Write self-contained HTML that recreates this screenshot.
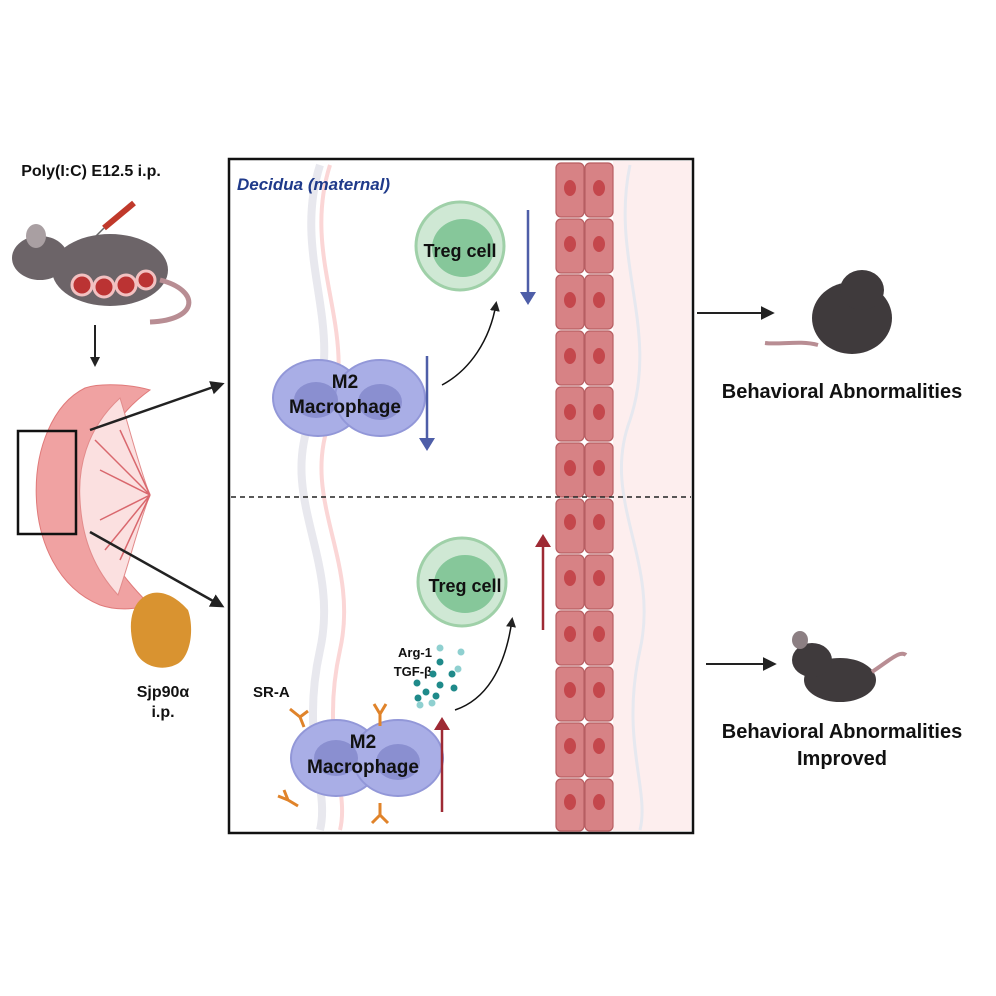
<!DOCTYPE html>
<html><head><meta charset="utf-8"><style>
html,body{margin:0;padding:0;background:#fff;}
svg{display:block;font-family:"Liberation Sans",sans-serif;}
</style></head><body>
<svg width="996" height="996" viewBox="0 0 996 996">
<defs>
<marker id="ab" markerWidth="10" markerHeight="10" refX="7" refY="5" orient="auto" markerUnits="userSpaceOnUse"><path d="M0,0 L10,5 L0,10z" fill="#222"/></marker>
<marker id="ak" viewBox="0 0 10 10" markerWidth="14" markerHeight="14" refX="8" refY="5" orient="auto" markerUnits="userSpaceOnUse"><path d="M0,0 L10,5 L0,10z" fill="#222"/></marker>
</defs>
<rect x="229" y="159" width="464" height="674" fill="#fff" stroke="#111" stroke-width="2.5"/>
<rect x="613" y="161" width="78" height="670" fill="#fdeeee"/>
<path d="M320,165 C290,260 350,330 310,420 C280,500 340,560 320,650 C300,740 330,790 320,830" stroke="#e8e8ee" stroke-width="8" fill="none"/>
<path d="M330,165 C300,260 360,330 330,420 C300,500 360,560 340,650 C320,740 350,790 340,830" stroke="#fbd6d6" stroke-width="4" fill="none"/>
<path d="M630,165 C610,260 660,330 630,420 C600,500 660,560 640,650 C620,740 650,790 640,830" stroke="#e6e8ef" stroke-width="3" fill="none"/>
<g fill="#d78285" stroke="#b75e62" stroke-width="1.2">
<rect x="556" y="163" width="28" height="54" rx="5"/><rect x="585" y="163" width="28" height="54" rx="5"/>
<rect x="556" y="219" width="28" height="54" rx="5"/><rect x="585" y="219" width="28" height="54" rx="5"/>
<rect x="556" y="275" width="28" height="54" rx="5"/><rect x="585" y="275" width="28" height="54" rx="5"/>
<rect x="556" y="331" width="28" height="54" rx="5"/><rect x="585" y="331" width="28" height="54" rx="5"/>
<rect x="556" y="387" width="28" height="54" rx="5"/><rect x="585" y="387" width="28" height="54" rx="5"/>
<rect x="556" y="443" width="28" height="54" rx="5"/><rect x="585" y="443" width="28" height="54" rx="5"/>
<rect x="556" y="499" width="28" height="54" rx="5"/><rect x="585" y="499" width="28" height="54" rx="5"/>
<rect x="556" y="555" width="28" height="54" rx="5"/><rect x="585" y="555" width="28" height="54" rx="5"/>
<rect x="556" y="611" width="28" height="54" rx="5"/><rect x="585" y="611" width="28" height="54" rx="5"/>
<rect x="556" y="667" width="28" height="54" rx="5"/><rect x="585" y="667" width="28" height="54" rx="5"/>
<rect x="556" y="723" width="28" height="54" rx="5"/><rect x="585" y="723" width="28" height="54" rx="5"/>
<rect x="556" y="779" width="28" height="52" rx="5"/><rect x="585" y="779" width="28" height="52" rx="5"/>
</g>
<g fill="#c4474c">
<ellipse cx="570" cy="188" rx="6" ry="8"/><ellipse cx="599" cy="188" rx="6" ry="8"/>
<ellipse cx="570" cy="244" rx="6" ry="8"/><ellipse cx="599" cy="244" rx="6" ry="8"/>
<ellipse cx="570" cy="300" rx="6" ry="8"/><ellipse cx="599" cy="300" rx="6" ry="8"/>
<ellipse cx="570" cy="356" rx="6" ry="8"/><ellipse cx="599" cy="356" rx="6" ry="8"/>
<ellipse cx="570" cy="412" rx="6" ry="8"/><ellipse cx="599" cy="412" rx="6" ry="8"/>
<ellipse cx="570" cy="468" rx="6" ry="8"/><ellipse cx="599" cy="468" rx="6" ry="8"/>
<ellipse cx="570" cy="522" rx="6" ry="8"/><ellipse cx="599" cy="522" rx="6" ry="8"/>
<ellipse cx="570" cy="578" rx="6" ry="8"/><ellipse cx="599" cy="578" rx="6" ry="8"/>
<ellipse cx="570" cy="634" rx="6" ry="8"/><ellipse cx="599" cy="634" rx="6" ry="8"/>
<ellipse cx="570" cy="690" rx="6" ry="8"/><ellipse cx="599" cy="690" rx="6" ry="8"/>
<ellipse cx="570" cy="746" rx="6" ry="8"/><ellipse cx="599" cy="746" rx="6" ry="8"/>
<ellipse cx="570" cy="802" rx="6" ry="8"/><ellipse cx="599" cy="802" rx="6" ry="8"/>
</g>
<line x1="231" y1="497" x2="691" y2="497" stroke="#222" stroke-width="1.5" stroke-dasharray="5,4"/>
<text x="237" y="190" font-size="17" font-weight="bold" font-style="italic" fill="#1f3a8a">Decidua (maternal)</text>
<circle cx="460" cy="246" r="44" fill="#cfe8d4" stroke="#9fd0a8" stroke-width="3"/>
<ellipse cx="463" cy="248" rx="31" ry="29" fill="#86c79a"/>
<text x="460" y="257" font-size="18" font-weight="bold" text-anchor="middle" fill="#111">Treg cell</text>
<circle cx="462" cy="582" r="44" fill="#cfe8d4" stroke="#9fd0a8" stroke-width="3"/>
<ellipse cx="465" cy="584" rx="31" ry="29" fill="#86c79a"/>
<text x="465" y="592" font-size="18" font-weight="bold" text-anchor="middle" fill="#111">Treg cell</text>
<g fill="#a9aee6" stroke="#9297d8" stroke-width="2">
<ellipse cx="318" cy="398" rx="45" ry="38"/><ellipse cx="380" cy="398" rx="45" ry="38"/>
<ellipse cx="336" cy="758" rx="45" ry="38"/><ellipse cx="398" cy="758" rx="45" ry="38"/>
</g>
<g fill="#8a8fd0"><ellipse cx="316" cy="400" rx="22" ry="18"/><ellipse cx="380" cy="402" rx="22" ry="18"/><ellipse cx="336" cy="758" rx="22" ry="18"/><ellipse cx="398" cy="762" rx="22" ry="18"/></g>
<text x="345" y="388" font-size="19" font-weight="bold" text-anchor="middle" fill="#111">M2</text>
<text x="345" y="413" font-size="19" font-weight="bold" text-anchor="middle" fill="#111">Macrophage</text>
<text x="363" y="748" font-size="19" font-weight="bold" text-anchor="middle" fill="#111">M2</text>
<text x="363" y="773" font-size="19" font-weight="bold" text-anchor="middle" fill="#111">Macrophage</text>
<g stroke="#e0832a" stroke-width="3" fill="none">
<path d="M300,717 l-10,-8 M300,717 l8,-6 M300,717 l4,10"/>
<path d="M380,714 l-6,-10 M380,714 l6,-10 M380,714 v12"/>
<path d="M288,800 l-10,-4 M288,800 l-4,-10 M288,800 l10,6"/>
<path d="M380,815 l-8,8 M380,815 l8,8 M380,815 v-12"/>
</g>
<text x="253" y="697" font-size="15" font-weight="bold" fill="#111">SR-A</text>
<text x="432" y="657" font-size="13" font-weight="bold" fill="#111" text-anchor="end">Arg-1</text>
<text x="432" y="676" font-size="13" font-weight="bold" fill="#111" text-anchor="end">TGF-β</text>
<g fill="#1f8a8a"><circle cx="440" cy="662" r="3.5"/><circle cx="433" cy="674" r="3.5"/><circle cx="452" cy="674" r="3.5"/><circle cx="417" cy="683" r="3.5"/><circle cx="440" cy="685" r="3.5"/><circle cx="454" cy="688" r="3.5"/><circle cx="426" cy="692" r="3.5"/><circle cx="418" cy="698" r="3.5"/><circle cx="436" cy="696" r="3.5"/></g>
<g fill="#8fd0d0"><circle cx="440" cy="648" r="3.5"/><circle cx="461" cy="652" r="3.5"/><circle cx="458" cy="669" r="3.5"/><circle cx="420" cy="705" r="3.5"/><circle cx="432" cy="703" r="3.5"/></g>
<path d="M442,385 C470,370 490,340 496,304" stroke="#111" stroke-width="1.5" fill="none" marker-end="url(#ab)"/>
<path d="M455,710 C485,700 505,670 512,620" stroke="#111" stroke-width="1.5" fill="none" marker-end="url(#ab)"/>
<line x1="528" y1="210" x2="528" y2="294" stroke="#4e5ea8" stroke-width="2.5"/><path d="M520,292 L536,292 L528,305z" fill="#4e5ea8"/>
<line x1="427" y1="356" x2="427" y2="440" stroke="#4e5ea8" stroke-width="2.5"/><path d="M419,438 L435,438 L427,451z" fill="#4e5ea8"/>
<line x1="543" y1="630" x2="543" y2="545" stroke="#9e2a34" stroke-width="2.5"/><path d="M535,547 L551,547 L543,534z" fill="#9e2a34"/>
<line x1="442" y1="812" x2="442" y2="728" stroke="#9e2a34" stroke-width="2.5"/><path d="M434,730 L450,730 L442,717z" fill="#9e2a34"/>
<text x="91" y="176" font-size="16" font-weight="bold" text-anchor="middle" fill="#111">Poly(I:C) E12.5 i.p.</text>
<path d="M134,203 L104,228" stroke="#c0392b" stroke-width="6"/><path d="M104,228 L96,236" stroke="#666" stroke-width="1.5"/>
<ellipse cx="110" cy="270" rx="58" ry="36" fill="#6c6468"/>
<ellipse cx="40" cy="258" rx="28" ry="22" fill="#6c6468"/>
<ellipse cx="36" cy="236" rx="10" ry="12" fill="#a99fa2"/>
<g fill="#b33" stroke="#f2c1c1" stroke-width="3"><circle cx="82" cy="285" r="10"/><circle cx="104" cy="287" r="10"/><circle cx="126" cy="285" r="10"/><circle cx="146" cy="280" r="9"/></g>
<path d="M160,280 C200,290 200,320 150,322" stroke="#b88d93" stroke-width="5" fill="none"/>
<line x1="95" y1="325" x2="95" y2="364" stroke="#222" stroke-width="2" marker-end="url(#ab)"/>
<!-- placenta -->
<path d="M85,388 C20,420 15,570 100,605 C120,612 140,608 150,605 C115,570 95,540 95,495 C95,450 115,415 150,390 C130,384 100,383 85,388z" fill="#f0a2a2" stroke="#e07a7a"/>
<path d="M120,398 C85,430 78,470 80,500 C82,540 95,570 118,595 C130,560 140,520 150,495 C140,470 130,430 120,398z" fill="#fbe0e0" stroke="#e28b8b"/>
<path d="M95,440 L150,495 M100,470 L150,495 M100,520 L150,495 M105,550 L150,495 M120,430 L150,495 M120,560 L150,495" stroke="#d9686e" stroke-width="1.5" fill="none"/>
<rect x="18" y="431" width="58" height="103" fill="none" stroke="#111" stroke-width="2.5"/>
<line x1="90" y1="430" x2="222" y2="384" stroke="#222" stroke-width="2.5" marker-end="url(#ak)"/>
<line x1="90" y1="532" x2="222" y2="606" stroke="#222" stroke-width="2.5" marker-end="url(#ak)"/>
<path d="M140,600 C155,585 175,595 188,610 C195,630 190,660 175,665 C160,672 140,665 135,650 C128,630 130,610 140,600z" fill="#d99330"/>
<text x="163" y="697" font-size="16" font-weight="bold" text-anchor="middle" fill="#111">Sjp90α</text>
<text x="163" y="717" font-size="16" font-weight="bold" text-anchor="middle" fill="#111">i.p.</text>
<line x1="697" y1="313" x2="772" y2="313" stroke="#222" stroke-width="2" marker-end="url(#ak)"/>
<line x1="706" y1="664" x2="774" y2="664" stroke="#222" stroke-width="2" marker-end="url(#ak)"/>
<ellipse cx="852" cy="318" rx="40" ry="36" fill="#3f3a3c"/>
<ellipse cx="862" cy="290" rx="22" ry="20" fill="#3f3a3c"/>
<path d="M818,345 C800,340 780,345 765,343" stroke="#b88d93" stroke-width="4" fill="none"/>
<ellipse cx="840" cy="680" rx="36" ry="22" fill="#3f3a3c"/>
<ellipse cx="812" cy="660" rx="20" ry="17" fill="#3f3a3c"/>
<ellipse cx="800" cy="640" rx="8" ry="9" fill="#8c7f83"/>
<path d="M872,672 C890,660 900,650 906,655" stroke="#b88d93" stroke-width="4" fill="none"/>
<text x="842" y="398" font-size="20" font-weight="bold" text-anchor="middle" fill="#111">Behavioral Abnormalities</text>
<text x="842" y="738" font-size="20" font-weight="bold" text-anchor="middle" fill="#111">Behavioral Abnormalities</text>
<text x="842" y="765" font-size="20" font-weight="bold" text-anchor="middle" fill="#111">Improved</text>
</svg>
</body></html>
